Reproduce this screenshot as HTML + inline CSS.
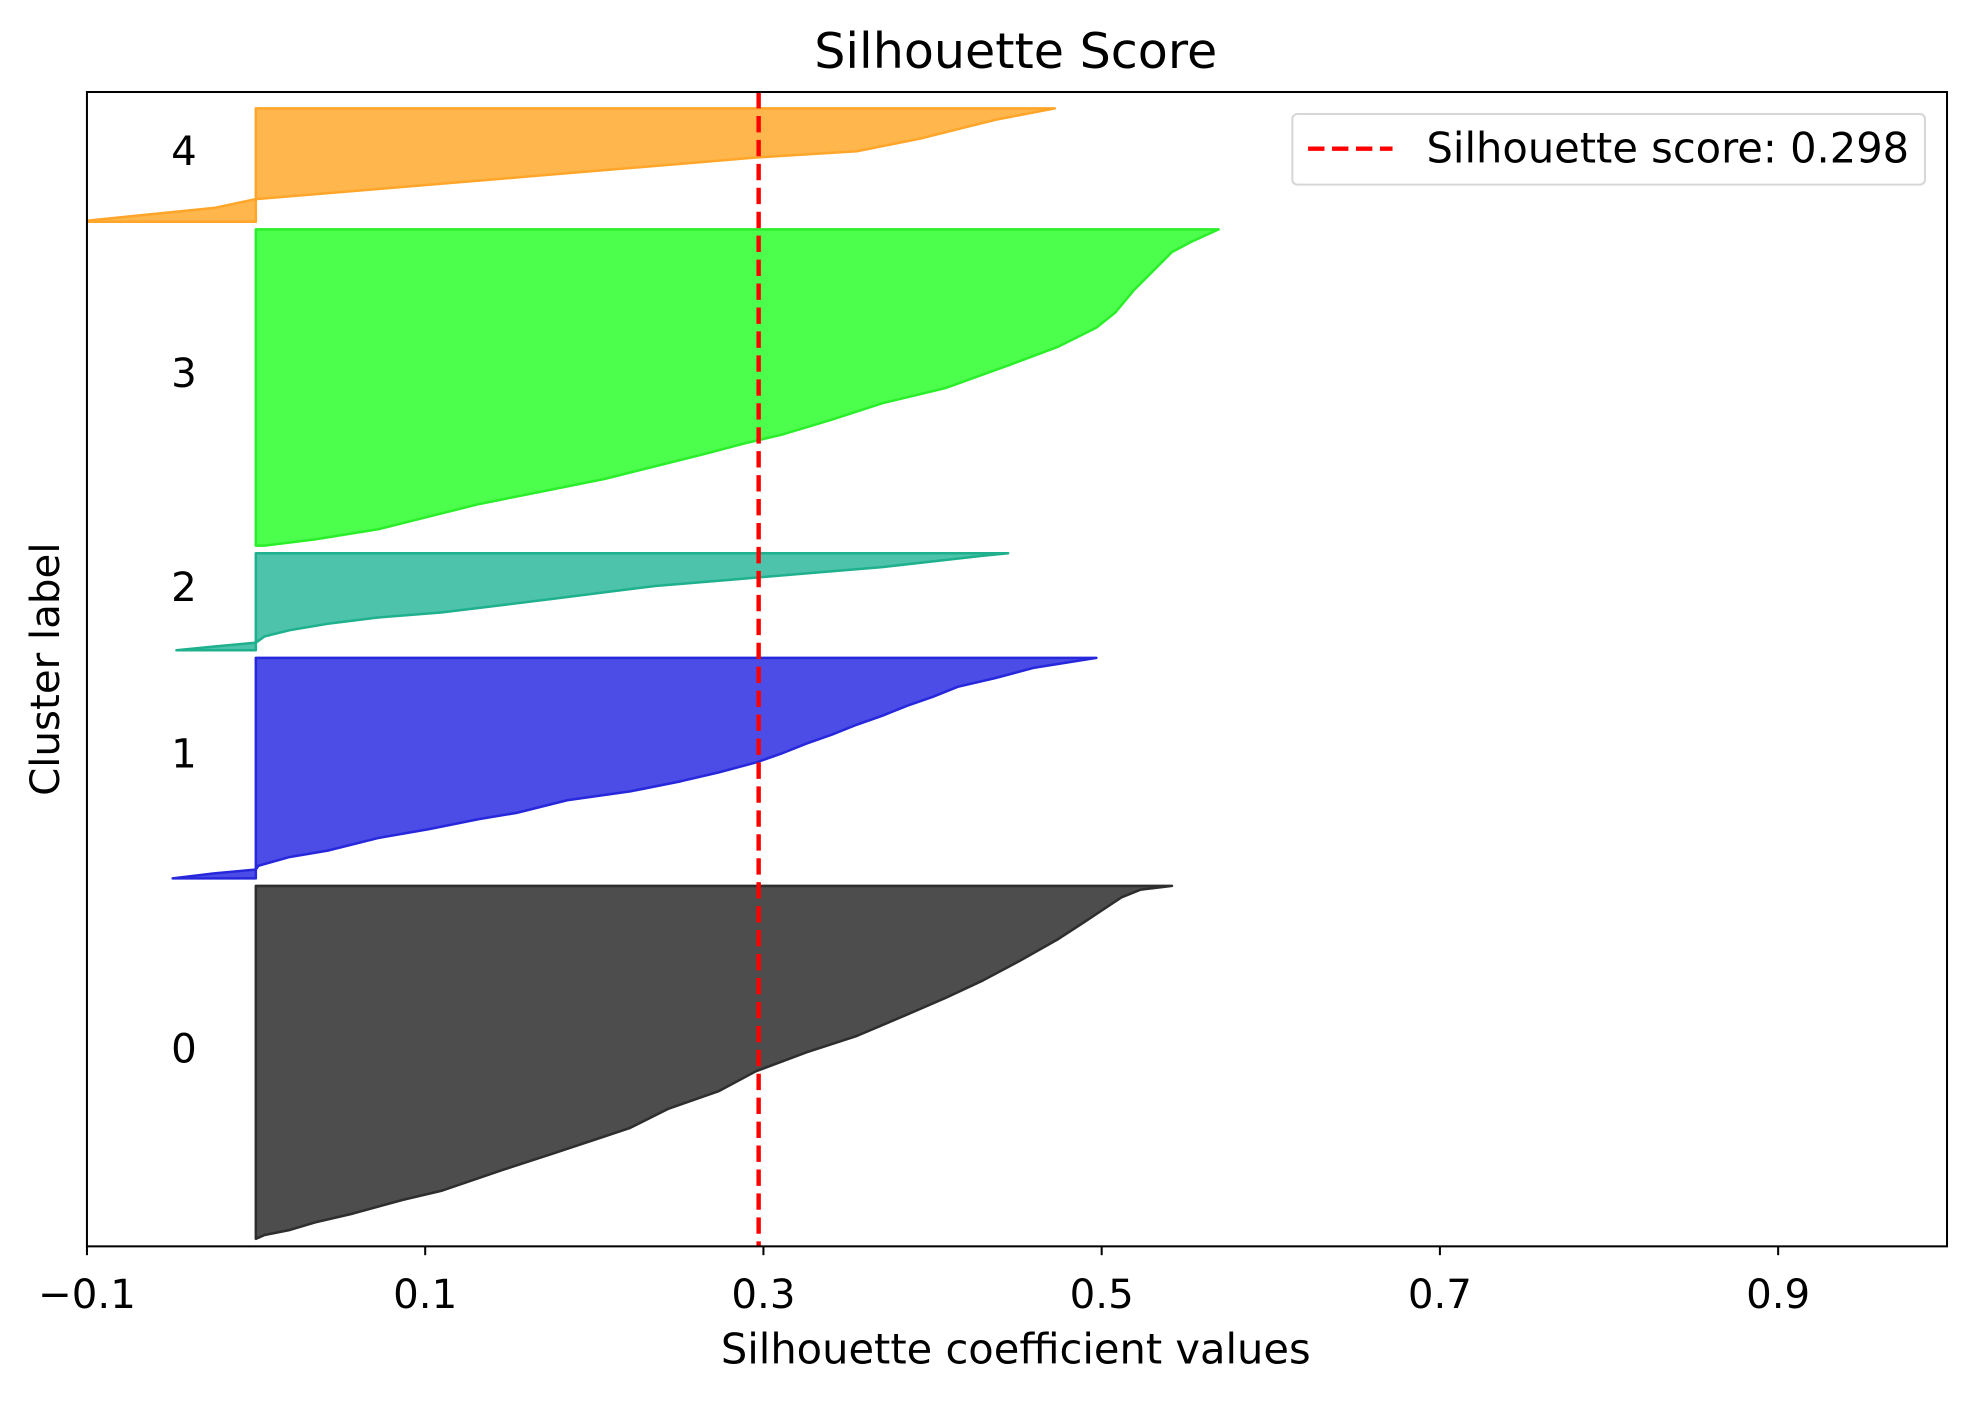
<!DOCTYPE html>
<html><head><meta charset="utf-8"><style>
html,body{margin:0;padding:0;background:#fff}
svg{display:block}
text{font-family:"DejaVu Sans","Liberation Sans",sans-serif;fill:#000}
</style></head><body>
<svg width="1976" height="1403" viewBox="0 0 1568 1113.3" preserveAspectRatio="none" xmlns="http://www.w3.org/2000/svg">
<rect width="1568" height="1114" fill="#fff"/>
<defs><clipPath id="ax"><rect x="69" y="73" width="1476" height="916"/></clipPath></defs>
<g clip-path="url(#ax)" stroke-width="2" stroke-linejoin="round">
<path d="M203,86 L837,86 L790,95 L730,110 L680,120 L600,125 L540,130 L420,140 L300,150 L203,158 L170,165 L100,172 L60,176 L203,176 Z" fill="#ffb74d" stroke="#ffa52a"/>
<path d="M203,182 L967,182 L945,192 L930,200 L915,215 L900,230 L885,248 L870,260 L840,275 L800,290 L750,308 L700,320 L660,333 L620,345 L590,352 L560,360 L520,370 L480,380 L430,390 L380,400 L340,410 L300,420 L250,428 L210,433 L203,433 Z" fill="#4cff4c" stroke="#2bee2b"/>
<path d="M203,439 L800,439 L780,441 L700,450 L640,455 L580,460 L520,465 L480,470 L440,475 L400,480 L350,486 L300,490 L260,495 L230,500 L210,505 L203,510 L170,513 L140,516 L203,516 Z" fill="#4cc3aa" stroke="#1fb08e"/>
<path d="M203,522 L870,522 L845,526 L820,530 L790,538 L760,545 L740,553 L720,560 L700,568 L680,575 L660,583 L640,590 L620,598 L600,605 L570,613 L540,620 L500,628 L450,635 L410,645 L380,650 L340,658 L300,665 L260,675 L230,680 L205,687 L203,690 L170,693 L137,697 L203,697 Z" fill="#4b4de6" stroke="#2727dc"/>
<path d="M203,703 L930,703 L905,706 L890,712 L875,722 L860,732 L840,745 L810,762 L780,778 L750,792 L720,805 L680,822 L640,835 L600,850 L570,866 L530,880 L500,895 L470,905 L440,915 L400,928 L350,945 L320,952 L280,963 L250,970 L230,976 L210,980 L203,983 Z" fill="#4d4d4d" stroke="#2e2e2e"/>
</g>
<line x1="602" y1="73" x2="602" y2="989" stroke="#ff0000" stroke-width="3.5" stroke-dasharray="13,6"/>
<rect x="69" y="73" width="1476" height="916" fill="none" stroke="#000" stroke-width="1.6"/>
<g stroke="#000" stroke-width="1.6">
<line x1="69" y1="989" x2="69" y2="996"/><line x1="337.4" y1="989" x2="337.4" y2="996"/><line x1="605.8" y1="989" x2="605.8" y2="996"/><line x1="874.2" y1="989" x2="874.2" y2="996"/><line x1="1142.6" y1="989" x2="1142.6" y2="996"/><line x1="1411" y1="989" x2="1411" y2="996"/>
</g>
<g font-size="32" text-anchor="middle">
<text x="69" y="1038">−0.1</text><text x="337.4" y="1038">0.1</text><text x="605.8" y="1038">0.3</text><text x="874.2" y="1038">0.5</text><text x="1142.6" y="1038">0.7</text><text x="1411" y="1038">0.9</text>
<text x="806" y="1082" font-size="33">Silhouette coefficient values</text>
<text x="806" y="54" font-size="39">Silhouette Score</text>
<text transform="translate(47,531) rotate(-90)">Cluster label</text>
<text x="146" y="131">4</text><text x="146" y="307">3</text><text x="146" y="477">2</text><text x="146" y="609">1</text><text x="146" y="843">0</text>
</g>
<rect x="1025.5" y="90.5" width="502" height="56" rx="4" fill="#fff" fill-opacity="0.8" stroke="#d6d6d6" stroke-width="1.6"/>
<line x1="1038" y1="118" x2="1105" y2="118" stroke="#ff0000" stroke-width="3.5" stroke-dasharray="13,6"/>
<text x="1132" y="129" font-size="33">Silhouette score: 0.298</text>
</svg>
</body></html>
